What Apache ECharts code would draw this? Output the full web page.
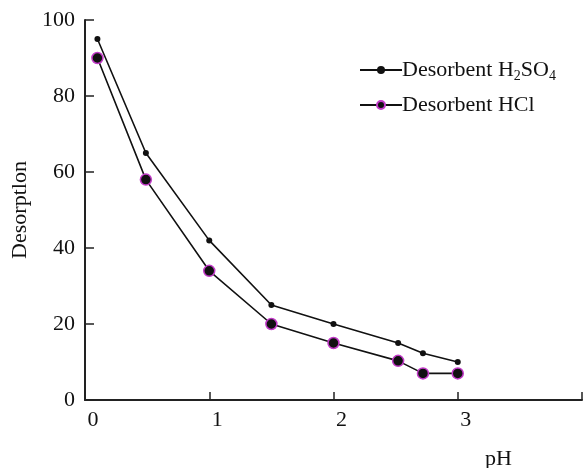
<!DOCTYPE html>
<html><head><meta charset="utf-8">
<script src="https://cdn.jsdelivr.net/npm/echarts@6/dist/echarts.min.js"></script>
<style>html,body{margin:0;padding:0;background:#fff}#c{width:585px;height:468px}</style>
</head><body><div id="c"></div>
<script>
const pH = [0.1, 0.49, 1.0, 1.5, 2.0, 2.52, 2.72, 3.0];
const h2so4 = [95, 65, 42, 25, 20, 15, 12.3, 10];
const hcl = [90, 58, 34, 20, 15, 10.3, 7, 7];
const xTicks = [0, 1, 2, 3];
const yTicks = [0, 20, 40, 60, 80, 100];

const font = '"Liberation Serif", "DejaVu Serif", serif';
const pair = (xs, ys) => xs.map((x, i) => [x, ys[i]]);
const chart = echarts.init(document.getElementById('c'), null, {renderer: 'canvas'});
chart.setOption({
  animation: false,
  backgroundColor: '#fff',
  grid: {left: 85, right: 3, top: 20, bottom: 68, containLabel: false, outerBoundsMode: 'none'},
  legend: {
    orient: 'vertical', left: 354, top: 54, itemGap: 11,
    itemWidth: 42, itemHeight: 10,
    textStyle: {
      fontFamily: font, fontSize: 22, color: '#111', padding: [0, 0, 0, -5],
      rich: {
        a: {fontFamily: font, fontSize: 22, color: '#111'},
        s: {fontFamily: font, fontSize: 14, color: '#111', verticalAlign: 'bottom', padding: [12, 0, 0, 0]}
      }
    },
    formatter: function (n) {
      if (n === 'Desorbent H2SO4') return '{a|Desorbent H}{s|2}{a|SO}{s|4}';
      return '{a|' + n + '}';
    },
    data: ['Desorbent H2SO4', 'Desorbent HCl']
  },
  xAxis: {
    type: 'value', min: 0, max: 4, interval: 1,
    name: 'pH', nameLocation: 'middle', nameGap: 48,
    nameTextStyle: {fontFamily: font, fontSize: 22, color: '#111', padding: [0, 0, 0, 330]},
    axisLine: {lineStyle: {color: '#222', width: 2}},
    axisTick: {inside: true, length: 8, lineStyle: {color: '#222', width: 1.5}},
    splitLine: {show: false},
    axisLabel: {
      fontFamily: font, fontSize: 22, color: '#111', margin: 9, padding: [0, 0, 0, 16],
      formatter: v => xTicks.indexOf(v) >= 0 ? String(v) : ''
    }
  },
  yAxis: {
    type: 'value', min: 0, max: 100, interval: 20,
    name: 'Desorptlon', nameLocation: 'middle', nameGap: 50, nameRotate: 90,
    nameTextStyle: {fontFamily: font, fontSize: 22, color: '#111'},
    axisLine: {show: true, lineStyle: {color: '#222', width: 2}},
    axisTick: {show: true, inside: true, length: 9, lineStyle: {color: '#222', width: 1.5}},
    splitLine: {show: false},
    axisLabel: {
      fontFamily: font, fontSize: 22, color: '#111', margin: 10,
      formatter: v => yTicks.indexOf(v) >= 0 ? String(v) : ''
    }
  },
  series: [
    {
      name: 'Desorbent H2SO4', type: 'line', data: pair(pH, h2so4),
      symbol: 'circle', symbolSize: 6,
      lineStyle: {color: '#111', width: 1.6},
      itemStyle: {color: '#111'}
    },
    {
      name: 'Desorbent HCl', type: 'line', data: pair(pH, hcl),
      symbol: 'circle', symbolSize: 11,
      lineStyle: {color: '#111', width: 1.6},
      itemStyle: {color: '#111', borderColor: '#c23ac8', borderWidth: 1.5}
    }
  ]
});
</script></body></html>
